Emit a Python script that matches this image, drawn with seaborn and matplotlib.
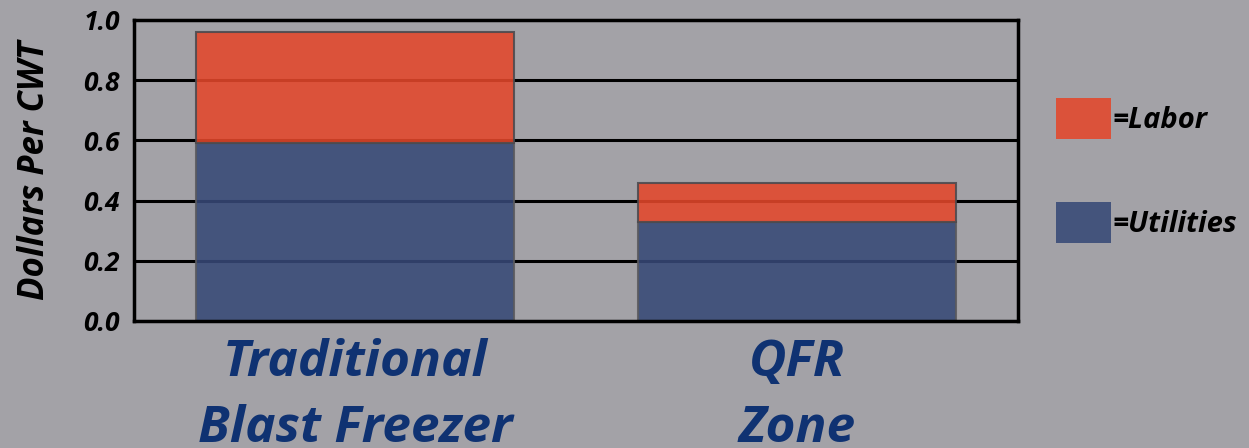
import numpy as np
import pandas as pd
import matplotlib
matplotlib.use('Agg')
import matplotlib.pyplot as plt
import seaborn as sns
from matplotlib.patches import Patch

# data
categories = ['Traditional\nBlast Freezer', 'QFR\nZone']
utilities = [0.59, 0.33]
labor = [0.37, 0.13]

df = pd.DataFrame({'cat': categories, 'utilities': utilities, 'labor': labor})

bg = '#a3a2a7'
red = '#e4472b'
blue = '#374977'
label_blue = '#0f3272'

sns.set_style('white')
plt.rcParams['font.family'] = ['Open Sans', 'DejaVu Sans']
plt.rcParams['font.weight'] = 'bold'
plt.rcParams['font.style'] = 'italic'
plt.rcParams['text.color'] = 'black'
plt.rcParams['axes.labelcolor'] = 'black'
plt.rcParams['ytick.color'] = 'black'

fig = plt.figure(figsize=(12.49, 4.48), dpi=100, facecolor=bg)
ax = fig.add_axes([0.1073, 0.2835, 0.7080, 0.6719])
ax.set_facecolor(bg)

# gridlines under the (slightly see-through) bars
for y in [0.2, 0.4, 0.6, 0.8]:
    ax.axhline(y, color='black', lw=2.2, zorder=0)

sns.barplot(data=df, x='cat', y='utilities', color=blue, width=0.72, alpha=0.88,
            edgecolor='#5a5a5e', linewidth=1.5, saturation=1, ax=ax, zorder=2)
sns.barplot(data=df, x='cat', y='labor', bottom=df['utilities'].values, color=red,
            width=0.72, alpha=0.88, edgecolor='#4a4a4e', linewidth=1.5, saturation=1,
            ax=ax, zorder=3)

ax.set_xlim(-0.5, 1.5)
ax.set_ylim(0, 1.0)
ax.set_yticks([0.0, 0.2, 0.4, 0.6, 0.8, 1.0])
ax.set_yticklabels(['0.0', '0.2', '0.4', '0.6', '0.8', '1.0'],
                   fontsize=19, fontweight='bold', style='italic', color='black')
ax.tick_params(axis='y', length=0, pad=10)

ax.set_xticks([0, 1])
ax.set_xticklabels(categories, fontsize=37, fontweight='bold', style='italic',
                   color=label_blue, linespacing=1.42)
ax.tick_params(axis='x', length=0, pad=12)
ax.set_xticks([0.5], minor=True)
ax.tick_params(axis='x', which='minor', direction='in', length=6, width=2.5, color='black')
ax.set_xlabel('')

ax.set_ylabel('Dollars Per CWT', fontsize=25, fontweight='bold', style='italic',
              labelpad=22, color='black')

for s in ax.spines.values():
    s.set_visible(True)
    s.set_color('black')
    s.set_linewidth(2.5)

handles = [Patch(facecolor=red, alpha=0.88, edgecolor='none'),
           Patch(facecolor=blue, alpha=0.88, edgecolor='none')]
leg = fig.legend(handles, ['=Labor', '=Utilities'], loc='upper left',
                 bbox_to_anchor=(0.8455, 0.781), frameon=False,
                 prop={'family': ['Open Sans', 'DejaVu Sans'], 'weight': 'bold', 'style': 'italic', 'size': 21},
                 handlelength=1.9, handleheight=1.8, handletextpad=0.05, labelspacing=2.15,
                 borderaxespad=0, borderpad=0)
for t in leg.get_texts():
    t.set_color('black')

fig.savefig('out.png', dpi=100, facecolor=bg)
